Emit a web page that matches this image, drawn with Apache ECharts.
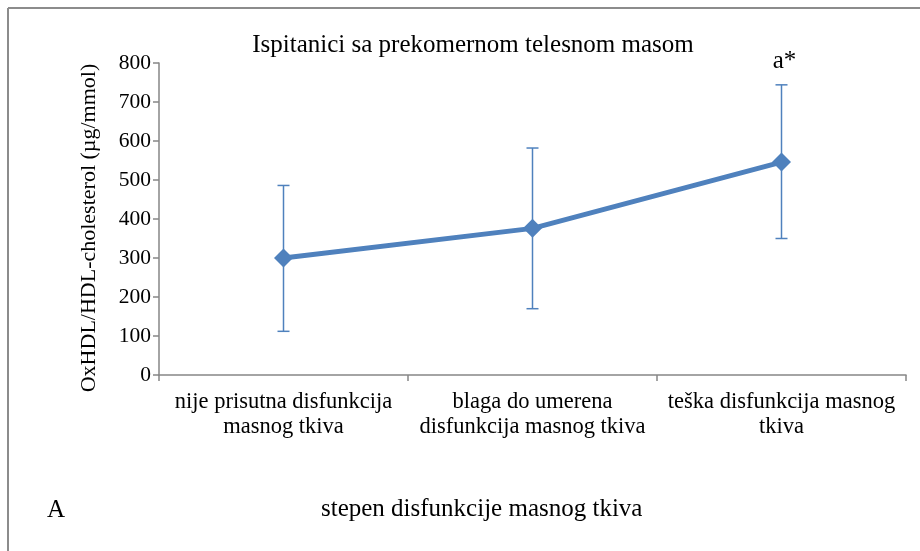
<!DOCTYPE html>
<html>
<head>
<meta charset="utf-8">
<script src="https://cdn.jsdelivr.net/npm/echarts@6/dist/echarts.min.js"></script>
<style>
html,body{margin:0;padding:0;background:#fff;}
#chart{width:920px;height:551px;}
</style>
</head>
<body>
<div id="chart"></div>
<script>
const categories = ['nije prisutna disfunkcija\nmasnog tkiva', 'blaga do umerena\ndisfunkcija masnog tkiva', 'teška disfunkcija masnog\ntkiva'];
const means = [300, 376, 546];
const errLow = [112, 170, 350];
const errHigh = [486, 582, 744];
const annotations = ['', '', 'a*'];
const yTicks = [0, 100, 200, 300, 400, 500, 600, 700, 800];

const FONT = '"Liberation Serif", "Times New Roman", serif';
const BLUE = '#4F81BD';
const AXIS = '#868686';

const chart = echarts.init(document.getElementById('chart'));
const errData = categories.map((c, i) => [i, errLow[i], errHigh[i], annotations[i]]);

chart.setOption({
  animation: false,
  backgroundColor: '#fff',
  title: {
    text: 'Ispitanici sa prekomernom telesnom masom',
    left: 468, top: 28, textAlign: 'center',
    textStyle: { fontFamily: FONT, fontSize: 25, fontWeight: 'normal', color: '#000' }
  },
  grid: { left: 159, right: 14, top: 63, bottom: 176 },
  xAxis: {
    type: 'category',
    data: categories,
    boundaryGap: true,
    axisLine: { lineStyle: { color: AXIS, width: 1.5 } },
    axisTick: { show: true, length: 6, alignWithLabel: false, lineStyle: { color: AXIS, width: 1.5 } },
    axisLabel: { interval: 0, margin: 15, lineHeight: 25, fontFamily: FONT, fontSize: 22.5, color: '#000' }
  },
  yAxis: {
    type: 'value',
    min: 0, max: 800, interval: 100,
    name: 'OxHDL/HDL-cholesterol (µg/mmol)',
    nameLocation: 'middle',
    nameGap: 59,
    nameRotate: 90,
    nameTextStyle: { fontFamily: FONT, fontSize: 22, color: '#000', letterSpacing: 0.6, padding: [0, 18, 0, 0] },
    splitLine: { show: false },
    axisLine: { show: true, lineStyle: { color: AXIS, width: 1.5 } },
    axisTick: { show: true, length: 6, lineStyle: { color: AXIS, width: 1.5 } },
    axisLabel: { margin: 8, fontFamily: FONT, fontSize: 21.5, color: '#000',
      formatter: v => yTicks.indexOf(v) >= 0 ? String(v) : '' }
  },
  series: [
    {
      type: 'custom',
      z: 1,
      data: errData,
      renderItem: function (params, api) {
        const x = api.value(0);
        const lo = api.coord([x, api.value(1)]);
        const hi = api.coord([x, api.value(2)]);
        const cap = 6;
        const st = { stroke: BLUE, lineWidth: 1.5 };
        const children = [
          { type: 'line', shape: { x1: lo[0], y1: lo[1], x2: hi[0], y2: hi[1] }, style: st },
          { type: 'line', shape: { x1: lo[0] - cap, y1: lo[1], x2: lo[0] + cap, y2: lo[1] }, style: st },
          { type: 'line', shape: { x1: hi[0] - cap, y1: hi[1], x2: hi[0] + cap, y2: hi[1] }, style: st }
        ];
        const ann = errData[params.dataIndex][3];
        if (ann) {
          children.push({ type: 'text', style: { text: ann, x: hi[0] + 3, y: hi[1] - 23,
            align: 'center', verticalAlign: 'middle', font: '25px ' + FONT, fill: '#000' } });
        }
        return { type: 'group', children: children };
      }
    },
    {
      type: 'line',
      z: 2,
      data: means,
      symbol: 'diamond',
      symbolSize: 19,
      lineStyle: { color: BLUE, width: 5 },
      itemStyle: { color: BLUE }
    }
  ],
  graphic: [
    { type: 'line', shape: { x1: 8, y1: 8, x2: 920, y2: 8 }, style: { stroke: '#8c8c8c', lineWidth: 2 } },
    { type: 'line', shape: { x1: 8, y1: 8, x2: 8, y2: 551 }, style: { stroke: '#8c8c8c', lineWidth: 2 } },
    { type: 'text', left: 47, top: 498, style: { text: 'A', font: '25px ' + FONT, fill: '#000' } },
    { type: 'text', left: 321, top: 497, style: { text: 'stepen disfunkcije masnog tkiva', font: '25px ' + FONT, fill: '#000' } }
  ]
});
</script>
</body>
</html>
